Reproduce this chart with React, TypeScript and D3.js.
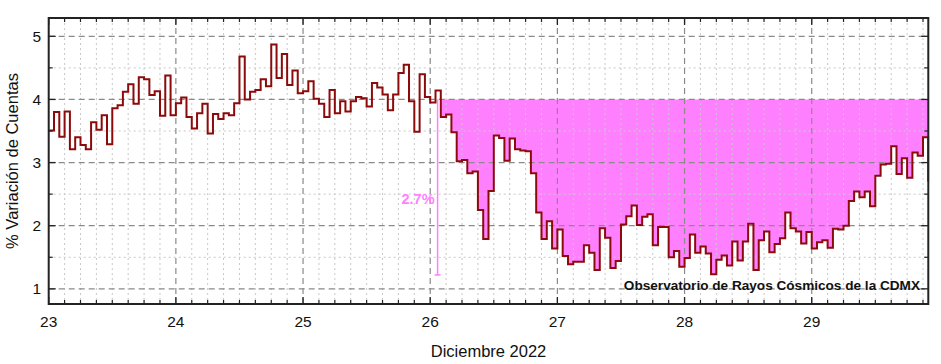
import React from "react";
import * as d3 from "d3";

const W = 941;
const H = 364;

const startDay = 23;
// hourly % variation of counts, starting 23 Dec 00:00
const hourlyValues = [
  3.51, 3.80, 3.41, 3.81, 3.21, 3.40, 3.28, 3.21, 3.64, 3.52, 3.75, 3.29,
  3.86, 3.91, 4.12, 4.24, 3.93, 4.35, 4.32, 4.07, 4.13, 3.74, 4.38, 3.75,
  3.94, 4.03, 3.72, 3.54, 3.78, 3.93, 3.46, 3.77, 3.69, 3.78, 3.75, 3.94,
  4.68, 4.00, 4.12, 4.15, 4.32, 4.21, 4.87, 4.34, 4.72, 4.23, 4.46, 4.10,
  4.13, 4.29, 4.01, 3.93, 3.72, 4.15, 3.78, 3.97, 3.81, 3.97, 4.04, 4.02,
  3.89, 4.26, 4.19, 4.08, 3.83, 4.08, 4.42, 4.55, 3.97, 3.49, 4.40, 4.04,
  3.95, 4.14, 3.72, 3.76, 3.48, 3.02, 3.04, 2.83, 2.86, 2.25, 1.79, 2.55,
  3.43, 3.39, 3.03, 3.38, 3.21, 3.19, 3.18, 2.83, 2.21, 1.79, 2.07, 1.64,
  1.94, 1.52, 1.39, 1.43, 1.43, 1.69, 1.57, 1.30, 1.96, 1.81, 1.33, 1.44,
  2.02, 2.15, 2.32, 2.01, 2.14, 2.18, 1.69, 1.98, 1.98, 1.50, 1.60, 1.35,
  1.49, 1.86, 1.57, 1.67, 1.56, 1.23, 1.46, 1.53, 1.37, 1.75, 1.45, 1.75,
  2.03, 1.30, 1.77, 1.91, 1.58, 1.71, 1.80, 2.21, 1.96, 1.91, 1.72, 1.90,
  1.64, 1.74, 1.77, 1.65, 1.95, 1.94, 2.00, 2.39, 2.54, 2.45, 2.54, 2.31,
  2.79, 2.97, 2.98, 3.26, 2.82, 3.07, 2.76, 3.16, 3.11, 3.40,
];
const endValue = 2.7;

const xTickDays = [23, 24, 25, 26, 27, 28, 29];
const yTickValues = [1, 2, 3, 4, 5];
const yMinorValues = [1.5, 2.5, 3.5, 4.5];

const yAxisTitle = "% Variación de Cuentas";
const xAxisTitle = "Diciembre 2022";
const sourceNote = "Observatorio de Rayos Cósmicos de la CDMX";
const dropLabel = "2.7%";

const fillBaseline = 4.0;
const fillStartHour = 74;
const dropTop = 4.0;
const dropBottom = 1.22;
const dropDay = 26.058;

const LINE = "#8b0a0a";
const PINK = "#ff80ff";
const FONT = "Liberation Sans, Arial, sans-serif";

export default function App() {
  const left = 48.7;
  const right = 928.3;
  const top = 18;
  const bottom = 304;

  const nHours = hourlyValues.length;
  const endDay = startDay + nHours / 24;

  const x = d3.scaleLinear().domain([startDay, endDay]).range([left, right]);
  const y = d3.scaleLinear().domain([0.76, 5.29]).range([bottom, top]);

  type P = { d: number; v: number };
  const pts: P[] = hourlyValues.map((v, i) => ({ d: startDay + i / 24, v }));
  pts.push({ d: endDay, v: endValue });

  const line = d3
    .line<P>()
    .x((p) => x(p.d))
    .y((p) => y(p.v))
    .curve(d3.curveStepAfter);

  const area = d3
    .area<P>()
    .x((p) => x(p.d))
    .y0(y(fillBaseline))
    .y1((p) => y(Math.min(p.v, fillBaseline)))
    .curve(d3.curveStepAfter);

  const fillPts = pts.slice(fillStartHour);

  const minorX: number[] = [];
  for (let k = 1; startDay + (k * 3) / 24 < endDay; k++) {
    if (k % 8 !== 0) minorX.push(startDay + (k * 3) / 24);
  }

  const frame = "#222";

  return (
    <svg
      width={W}
      height={H}
      style={{ position: "fixed", left: 0, top: 0, background: "#fff" }}
      fontFamily={FONT}
    >
      <defs>
        <clipPath id="plotclip">
          <rect x={left} y={top} width={right - left + 1} height={bottom - top} />
        </clipPath>
      </defs>
      <rect x={0} y={0} width={W} height={H} fill="#fff" />

      <g clipPath="url(#plotclip)">
        <path d={area(fillPts) || ""} fill={PINK} />
      </g>

      {/* minor grid */}
      {minorX.map((d) => (
        <line
          key={"mx" + d}
          x1={x(d)}
          x2={x(d)}
          y1={top}
          y2={bottom}
          stroke="#c8c8c8"
          strokeWidth={1}
          strokeDasharray="2,3"
        />
      ))}
      {yMinorValues.map((v) => (
        <line
          key={"my" + v}
          x1={left}
          x2={right}
          y1={y(v)}
          y2={y(v)}
          stroke="#c8c8c8"
          strokeWidth={1}
          strokeDasharray="2,3"
        />
      ))}
      {/* major grid */}
      {xTickDays.slice(1).map((d) => (
        <line
          key={"gx" + d}
          x1={x(d)}
          x2={x(d)}
          y1={top}
          y2={bottom}
          stroke="#8a8a8a"
          strokeWidth={1.2}
          strokeDasharray="6,4"
        />
      ))}
      {yTickValues.map((v) => (
        <line
          key={"gy" + v}
          x1={left}
          x2={right}
          y1={y(v)}
          y2={y(v)}
          stroke="#8a8a8a"
          strokeWidth={1.2}
          strokeDasharray="6,4"
        />
      ))}

      {/* drop annotation */}
      <line x1={x(dropDay)} x2={x(dropDay)} y1={y(dropTop)} y2={y(dropBottom)} stroke={PINK} strokeWidth={1.5} />
      <line x1={x(dropDay) - 3} x2={x(dropDay) + 3} y1={y(dropBottom)} y2={y(dropBottom)} stroke={PINK} strokeWidth={1.5} />
      <text
        x={x(dropDay) - 3}
        y={204}
        textAnchor="end"
        fontSize={14.5}
        fontWeight="bold"
        fill={PINK}
      >
        {dropLabel}
      </text>

      <g clipPath="url(#plotclip)">
        <path d={line(pts) || ""} fill="none" stroke={LINE} strokeWidth={2} strokeLinejoin="miter" />
      </g>

      {/* source note */}
      <text x={920} y={290} textAnchor="end" fontSize={13.6} fontWeight="bold" fill="#111">
        {sourceNote}
      </text>

      {/* frame */}
      <rect x={left} y={top} width={right - left} height={bottom - top} fill="none" stroke={frame} strokeWidth={2} />

      {/* ticks */}
      {xTickDays.map((d) => (
        <g key={"xt" + d}>
          <line x1={x(d)} x2={x(d)} y1={bottom} y2={bottom - 7} stroke={frame} strokeWidth={1.3} />
          <line x1={x(d)} x2={x(d)} y1={top} y2={top + 7} stroke={frame} strokeWidth={1.3} />
        </g>
      ))}
      {minorX.map((d) => (
        <g key={"xm" + d}>
          <line x1={x(d)} x2={x(d)} y1={bottom} y2={bottom - 4} stroke={frame} strokeWidth={1.2} />
          <line x1={x(d)} x2={x(d)} y1={top} y2={top + 4} stroke={frame} strokeWidth={1.2} />
        </g>
      ))}
      {yTickValues.map((v) => (
        <g key={"yt" + v}>
          <line x1={left} x2={left + 7} y1={y(v)} y2={y(v)} stroke={frame} strokeWidth={1.3} />
          <line x1={right} x2={right - 7} y1={y(v)} y2={y(v)} stroke={frame} strokeWidth={1.3} />
        </g>
      ))}
      {yMinorValues.map((v) => (
        <g key={"ym" + v}>
          <line x1={left} x2={left + 4} y1={y(v)} y2={y(v)} stroke={frame} strokeWidth={1.2} />
          <line x1={right} x2={right - 4} y1={y(v)} y2={y(v)} stroke={frame} strokeWidth={1.2} />
        </g>
      ))}

      {/* tick labels */}
      {xTickDays.map((d) => (
        <text key={"xl" + d} x={x(d)} y={327} textAnchor="middle" fontSize={15.5} fill="#111">
          {d}
        </text>
      ))}
      {yTickValues.map((v) => (
        <text key={"yl" + v} x={41} y={y(v) + 5.5} textAnchor="end" fontSize={15.5} fill="#111">
          {v}
        </text>
      ))}

      {/* axis titles */}
      <text x={(left + right) / 2} y={357} textAnchor="middle" fontSize={16.5} fill="#111">
        {xAxisTitle}
      </text>
      <text
        transform={`translate(18, ${(top + bottom) / 2}) rotate(-90)`}
        textAnchor="middle"
        fontSize={16.5}
        fill="#111"
      >
        {yAxisTitle}
      </text>
    </svg>
  );
}
